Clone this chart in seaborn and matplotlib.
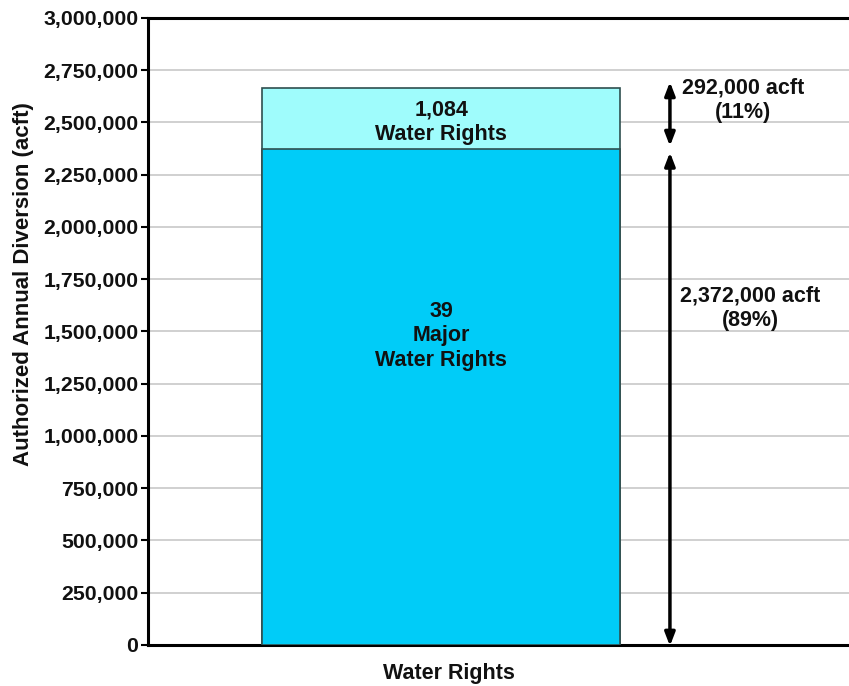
import pandas as pd
import seaborn as sns
from matplotlib import pyplot as plt
from matplotlib.ticker import FuncFormatter

# data
category = ["Water Rights"]
major_acft = [2372000]      # 39 major water rights
other_acft = [292000]       # 1,084 other water rights
total_acft = [major_acft[0] + other_acft[0]]
y_ticks = list(range(0, 3000001, 250000))

sns.set_theme(style="white")
plt.rcParams["font.family"] = ["Liberation Sans", "DejaVu Sans"]
plt.rcParams["font.weight"] = "bold"

df = pd.DataFrame({"cat": category, "total": total_acft, "major": major_acft})

fig = plt.figure(figsize=(8.49, 6.86), dpi=100)
ax = fig.add_axes([0.1743, 0.0598, 0.8257, 0.914])

# stacked bar: total first (light), then major on top of it (dark)
sns.barplot(data=df, x="cat", y="total", color="#9ffcfc", edgecolor="#2f4f4f",
            linewidth=1.2, width=0.8, saturation=1, ax=ax, zorder=2)
sns.barplot(data=df, x="cat", y="major", color="#00ccf8", edgecolor="#2f4f4f",
            linewidth=1.2, width=0.8, saturation=1, ax=ax, zorder=3)

ax.set_ylim(0, 3000000)
ax.set_xlim(-0.655, 0.911)
ax.set_yticks(y_ticks)
ax.yaxis.set_major_formatter(FuncFormatter(lambda v, p: f"{int(v):,}"))
ax.yaxis.grid(True, color="#c4c4c4", linewidth=1.1, zorder=0)
ax.set_axisbelow(True)

for s in ["left", "bottom", "top"]:
    ax.spines[s].set_color("black")
    ax.spines[s].set_linewidth(2.2)
ax.spines["right"].set_visible(False)

ax.tick_params(axis="y", left=True, length=5, width=1.5, color="black",
               labelsize=15.3, pad=2, labelcolor="#111111")
ax.tick_params(axis="x", bottom=False, labelbottom=False)
for lab in ax.get_yticklabels():
    lab.set_fontweight("bold")

ax.set_xlabel("Water Rights", fontsize=15.5, fontweight="bold", color="#111111")
ax.xaxis.set_label_coords(0.429, -0.045)
ax.xaxis.label.set_verticalalignment("center")
ax.set_ylabel("Authorized Annual Diversion (acft)", fontsize=16, fontweight="bold",
              color="#111111")
ax.yaxis.set_label_coords(-0.178, 0.575)
ax.yaxis.label.set_verticalalignment("center")

# labels inside the bar segments
txt = dict(ha="center", va="center", fontsize=15.5, fontweight="bold",
           color="#111111", linespacing=1.2)
ax.text(0, 2502000, "1,084\nWater Rights", zorder=4, **txt)
ax.text(0, 1479000, "39\nMajor\nWater Rights", zorder=4, **txt)

# dimension arrows
arrow_x = 0.511
arrow_kw = dict(arrowstyle="<|-|>,head_length=0.65,head_width=0.25", color="black",
                lw=2.5, shrinkA=0, shrinkB=0)
ax.annotate("", xy=(arrow_x, total_acft[0] + 30000), xytext=(arrow_x, major_acft[0] + 15000),
            arrowprops=arrow_kw, zorder=5)
ax.annotate("", xy=(arrow_x, major_acft[0] - 15000), xytext=(arrow_x, -5000),
            arrowprops=arrow_kw, zorder=5)

ax.text(0.675, 2607000, f"{other_acft[0]:,} acft\n(11%)", **txt)
ax.text(0.69, 1612000, f"{major_acft[0]:,} acft\n(89%)", **txt)

fig.savefig("out.png", dpi=100)
